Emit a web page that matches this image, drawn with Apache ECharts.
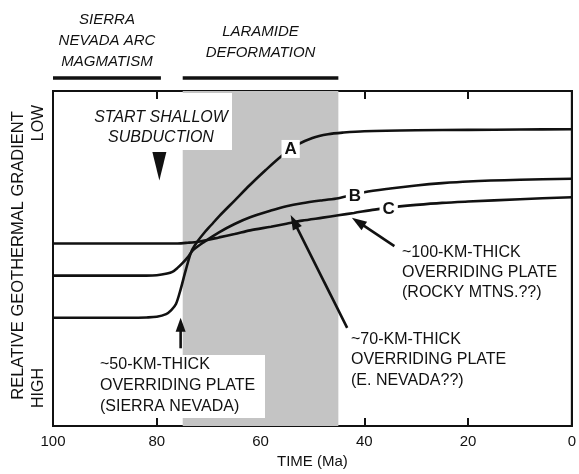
<!DOCTYPE html>
<html><head><meta charset="utf-8">
<script src="https://cdn.jsdelivr.net/npm/echarts@6/dist/echarts.min.js"></script>
<style>html,body{margin:0;padding:0;background:#fff}#c{width:579px;height:474px}</style>
</head><body><div id="c"></div>
<script>
// ---- data (time in Ma, relative geothermal gradient 0=HIGH .. 100=LOW) ----
const timeTicks = [100, 80, 60, 40, 20, 0];
const curveA = [[100,32.3],[85,32.3],[82,32.4],[80,32.6],[78.2,33.4],[77.2,34.6],[76.3,36.4],[75.4,40.8],[74.4,46.6],[73.3,52.2],[72.2,55.0],[71,57.4],[69.5,60.0],[68,62.6],[65,67.3],[62,72.0],[59,76.4],[56,80.5],[53,83.9],[50,86.0],[47,87.1],[44,87.6],[40,88.0],[30,88.3],[20,88.4],[10,88.5],[0,88.6]];
const curveB = [[100,44.9],[82,44.9],[80,45.0],[78,45.5],[77,46.0],[76,47.2],[75,48.7],[74,50.4],[73,52.5],[71,54.8],[68,57.8],[65,60.3],[62,62.3],[58,64.3],[55,65.6],[52,66.5],[48,67.4],[45,68.0],[40,69.8],[35,70.9],[30,71.8],[25,72.5],[20,73.0],[10,73.5],[0,73.8]];
const curveC = [[100,54.5],[76,54.5],[74,54.7],[72,55.0],[70,55.6],[68,56.3],[65,57.3],[62,58.4],[58,59.5],[55,60.4],[52,61.3],[48,62.2],[45,62.9],[42,63.6],[38,64.6],[34,65.4],[30,66.0],[25,66.6],[20,67.0],[10,67.7],[0,68.3]];
const curveLabels = [{name:'A', value:[54.2,82.7]},{name:'B', value:[41.8,68.6]},{name:'C', value:[35.3,64.7]}];
const laramideSpan = [75, 45];
const arcSpan = [100, 79.2];
const subductionStart = 79.5;
const arrow50 = {tail:[75.4,23.2], tip:[75.4,32.3]};
const arrow70 = {tail:[43.3,29.3], tip:[54.2,63.0]};
const arrow100 = {tail:[34.2,53.7], tip:[42.4,62.2]};

const FONT = '"Liberation Sans", Arial, Helvetica, sans-serif';
const INK = '#111';

const chart = echarts.init(document.getElementById('c'), null, {renderer:'canvas'});
const lineSeries = (name, data) => ({
  name, type:'line', data, showSymbol:false, smooth:0.3,
  lineStyle:{color:INK, width:2.6}, z:3, silent:true, animation:false
});
chart.setOption({
  animation:false,
  backgroundColor:'#fff',
  grid:{left:53, right:2, top:91, bottom:42, show:true, borderColor:INK, borderWidth:2},
  xAxis:[{
    type:'value', min:0, max:100, interval:20, inverse:true, position:'bottom',
    axisLine:{lineStyle:{color:INK, width:2}},
    axisTick:{inside:true, length:8, lineStyle:{color:INK, width:2}},
    axisLabel:{color:INK, fontSize:15, margin:8, fontFamily:FONT,
      formatter:v => timeTicks.includes(v) ? String(v) : ''},
    splitLine:{show:false},
    name:'TIME (Ma)', nameLocation:'middle', nameGap:28,
    nameTextStyle:{color:INK, fontSize:15, fontFamily:FONT}
  },{
    type:'value', min:0, max:100, interval:20, inverse:true, position:'top',
    axisLine:{lineStyle:{color:INK, width:2}},
    axisTick:{inside:true, length:8, lineStyle:{color:INK, width:2}},
    axisLabel:{show:false}, splitLine:{show:false}
  }],
  yAxis:{
    type:'value', min:0, max:100,
    axisLine:{show:true, lineStyle:{color:INK, width:2}},
    axisTick:{show:false}, axisLabel:{show:false}, splitLine:{show:false},
    name:'RELATIVE GEOTHERMAL GRADIENT', nameLocation:'middle', nameGap:26, nameRotate:90,
    nameTextStyle:{color:INK, fontSize:16.5, fontFamily:FONT, padding:[0,0,0,6]}
  },
  series:[
    {type:'line', data:[], z:1, silent:true,
      markArea:{silent:true, itemStyle:{color:'#c4c4c4'},
        data:[[{xAxis:laramideSpan[0]},{xAxis:laramideSpan[1]}]]}},
    lineSeries('A', curveA),
    lineSeries('B', curveB),
    lineSeries('C', curveC)
  ]
});

const px = p => chart.convertToPixel({xAxisIndex:0, yAxisIndex:0}, p);
function arrow(a, headLen, headW){
  const p1 = px(a.tail), p2 = px(a.tip);
  const dx = p2[0]-p1[0], dy = p2[1]-p1[1], L = Math.hypot(dx,dy);
  const ux = dx/L, uy = dy/L, nx = -uy, ny = ux;
  const bx = p2[0]-ux*headLen, by = p2[1]-uy*headLen;
  return [
    {type:'line', shape:{x1:p1[0], y1:p1[1], x2:bx+ux*2, y2:by+uy*2}, style:{stroke:INK, lineWidth:2.6}, z:60},
    {type:'polygon', shape:{points:[[p2[0],p2[1]],[bx+nx*headW/2,by+ny*headW/2],[bx-nx*headW/2,by-ny*headW/2]]}, style:{fill:INK}, z:60}
  ];
}
const t = (text, x, y, opt, extra) => Object.assign({type:'text', x, y, z:70,
  style:Object.assign({text, fill:INK, font:'16px '+FONT, lineHeight:21, align:'left', verticalAlign:'middle'}, opt||{})}, extra||{});

const arcL = px([arcSpan[0],0])[0], arcR = px([arcSpan[1],0])[0];
const larL = px([laramideSpan[0],0])[0], larR = px([laramideSpan[1],0])[0];
const tri = px([subductionStart, 81.8]), triTip = px([subductionStart, 73.3]);

const curveLabelEls = curveLabels.map(d => {
  const p = px(d.value);
  return t(d.name, p[0], p[1], {align:'center', font:'bold 17px '+FONT, lineHeight:18,
    backgroundColor:'#fff', padding:[0,3]});
});

const g = [
  {type:'line', shape:{x1:arcL, y1:78, x2:arcR, y2:78}, style:{stroke:INK, lineWidth:3.5}, z:60},
  {type:'line', shape:{x1:larL, y1:78, x2:larR, y2:78}, style:{stroke:INK, lineWidth:3.5}, z:60},
  t('SIERRA\nNEVADA ARC\nMAGMATISM', (arcL+arcR)/2, 41, {align:'center', font:'italic 15px '+FONT}),
  t('LARAMIDE\nDEFORMATION', (larL+larR)/2, 42, {align:'center', font:'italic 15px '+FONT}),
  {type:'rect', shape:{x:175, y:93, width:57, height:57}, style:{fill:'#fff'}, z:50},
  {type:'rect', shape:{x:97, y:355, width:168, height:63}, style:{fill:'#fff'}, z:50},
  t('START SHALLOW\nSUBDUCTION', 161, 128, {align:'center', font:'italic 16px '+FONT, lineHeight:20}),
  {type:'polygon', shape:{points:[[tri[0]-7,tri[1]],[tri[0]+7,tri[1]],[triTip[0],triTip[1]]]}, style:{fill:INK}, z:60},
  t('~50-KM-THICK\nOVERRIDING PLATE\n(SIERRA NEVADA)', 100, 386),
  t('~70-KM-THICK\nOVERRIDING PLATE\n(E. NEVADA??)', 351, 360, {lineHeight:20.5}),
  t('~100-KM-THICK\nOVERRIDING PLATE\n(ROCKY MTNS.??)', 402, 273, {lineHeight:20}),
  t('LOW', 39, 123, {align:'center'}, {rotation:Math.PI/2}),
  t('HIGH', 39, 388, {align:'center'}, {rotation:Math.PI/2})
].concat(curveLabelEls, arrow(arrow50, 14, 10), arrow(arrow70, 15, 10), arrow(arrow100, 15, 10));
chart.setOption({graphic:g});
</script></body></html>
